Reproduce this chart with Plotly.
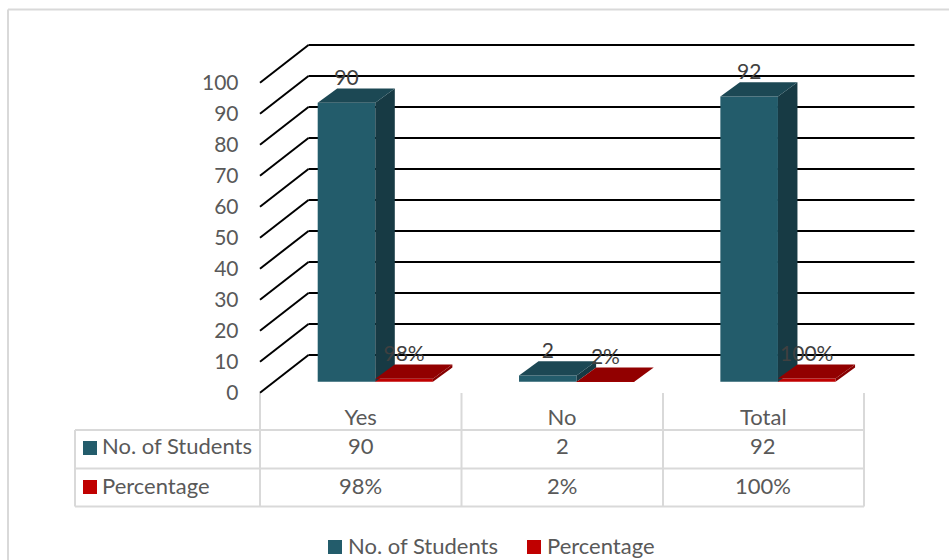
import plotly.graph_objects as go

# ---- data ----
categories = ["Yes", "No", "Total"]
students = [90, 2, 92]
percentage = [0.98, 0.02, 1.00]
student_labels = ["90", "2", "92"]
percentage_labels = ["98%", "2%", "100%"]
y_ticks = [0, 10, 20, 30, 40, 50, 60, 70, 80, 90, 100]
series_names = ["No. of Students", "Percentage"]

# ---- page geometry (pixels) ----
W, H = 949, 560
X0, CAT_W = 260.0, 201.33     # left of plot floor, width of one category
Y0, PX_PER_UNIT = 392.7, 3.1  # pixel row of value 0, pixels per value unit
FONT = "Lato"
TEXT = "#595959"
LINE = "#d9d9d9"
TEAL, TEAL_TOP, TEAL_SIDE = "#235c6b", "#1c4854", "#173a44"
RED, RED_TOP, RED_SIDE = "#c00000", "#920000", "#860000"

def px(c):  # category units from pixel x
    return (c - X0) / CAT_W
def py(r):  # value units from pixel row
    return (Y0 - r) / PX_PER_UNIT
def fx(c):
    return c / W
def fy(r):
    return 1 - r / H

WALL_DX, WALL_DY = 48.5 / CAT_W, 37.7 / PX_PER_UNIT
DEPTH_X, DEPTH_Y = 19.5 / CAT_W, 14.2 / PX_PER_UNIT
BASE = 11 / PX_PER_UNIT       # bars stand a little in front of the axis corner
BAR_W = 57.6 / CAT_W
GAP = 57.7 / CAT_W
RIGHT_END = px(914.5)
LABEL_DROP = 2 / PX_PER_UNIT

fig = go.Figure()

# front faces
for name, vals, colour, shift in [
    (series_names[0], students, TEAL, 0.0),
    (series_names[1], percentage, RED, BAR_W),
]:
    fig.add_bar(
        x=[i + 0.5 for i in range(len(categories))],
        y=vals,
        base=BASE,
        width=BAR_W,
        offset=GAP + shift - 0.5,
        marker=dict(color=colour, line=dict(width=0)),
        name=name,
        hoverinfo="skip",
        showlegend=False,
    )

# depth faces
def faces(vals, shift, top_col, side_col):
    for i, v in enumerate(vals):
        l = i + GAP + shift
        r = l + BAR_W
        b = BASE
        t = BASE + v
        fig.add_scatter(
            x=[r, r + DEPTH_X, r + DEPTH_X, r, r],
            y=[b, b + DEPTH_Y, t + DEPTH_Y, t, b],
            mode="lines", fill="toself", fillcolor=side_col,
            line=dict(width=0), showlegend=False, hoverinfo="skip",
        )
        fig.add_scatter(
            x=[l, l + DEPTH_X, r + DEPTH_X, r, l],
            y=[t, t + DEPTH_Y, t + DEPTH_Y, t, t],
            mode="lines", fill="toself", fillcolor=top_col,
            line=dict(width=0), showlegend=False, hoverinfo="skip",
        )

faces(students, 0.0, TEAL_TOP, TEAL_SIDE)
faces(percentage, BAR_W, RED_TOP, RED_SIDE)

# data labels, sitting above the back edge of each bar
for vals, labels, shift in [
    (students, student_labels, 0.0),
    (percentage, percentage_labels, BAR_W),
]:
    fig.add_scatter(
        x=[i + GAP + shift + BAR_W / 2 for i in range(len(vals))],
        y=[BASE + v + DEPTH_Y - LABEL_DROP for v in vals],
        mode="text", text=labels, textposition="top center",
        textfont=dict(family=FONT, size=21, color="#404040"),
        cliponaxis=False, showlegend=False, hoverinfo="skip",
    )

shapes = []
def seg(x0, y0, x1, y1, **kw):
    shapes.append(dict(type="line", x0=x0, y0=y0, x1=x1, y1=y1, layer="below", **kw))

# 3-D gridlines
for v in y_ticks:
    seg(0, v, WALL_DX, v + WALL_DY, xref="x", yref="y", line=dict(color="#000000", width=2))
    seg(WALL_DX, v + WALL_DY, RIGHT_END, v + WALL_DY, xref="x", yref="y",
        line=dict(color="#000000", width=2))

# chart-area border (left and top only are in frame)
paper = dict(xref="paper", yref="paper", line=dict(color=LINE, width=2))
seg(fx(8), fy(560), fx(8), fy(9.5), **paper)
seg(fx(8), fy(9.5), fx(949), fy(9.5), **paper)

# data table rules
for r in (430, 468.5, 506.5):
    seg(fx(75), fy(r), fx(864), fy(r), **paper)
seg(fx(75), fy(430), fx(75), fy(506.5), **paper)
for c in (260, 461.5, 663, 864):
    seg(fx(c), fy(393), fx(c), fy(506.5), **paper)

# swatches: table rows and the legend row
for c, r, col in ((90, 448, TEAL), (90, 487, RED), (335, 547, TEAL), (534, 547, RED)):
    shapes.append(dict(type="rect", xref="paper", yref="paper",
                       x0=fx(c - 7), x1=fx(c + 7), y0=fy(r - 7), y1=fy(r + 7),
                       fillcolor=col, line=dict(width=0)))

# table and legend text
ann = []
def cell(text, xref, x, r, anchor):
    ann.append(dict(text=text, xref=xref, x=x, yref="paper", y=fy(r),
                    xanchor=anchor, yanchor="middle", showarrow=False,
                    font=dict(family=FONT, size=22, color=TEXT)))

for row_r, name, labels in ((446, series_names[0], student_labels),
                            (485, series_names[1], percentage_labels)):
    cell(name, "paper", fx(100), row_r, "left")
    for i, t in enumerate(labels):
        cell(t, "x", i + 0.5, row_r, "center")
cell(series_names[0], "paper", fx(346), 545, "left")
cell(series_names[1], "paper", fx(545), 545, "left")

fig.update_layout(
    width=W, height=H, autosize=False,
    margin=dict(l=0, r=0, t=0, b=0, autoexpand=False),
    paper_bgcolor="white", plot_bgcolor="white",
    barmode="overlay", showlegend=False,
    shapes=shapes, annotations=ann,
    font=dict(family=FONT, size=22, color=TEXT),
    xaxis=dict(
        range=[px(0), px(W)], anchor="free", position=fy(402),
        tickmode="array", tickvals=[i + 0.5 for i in range(len(categories))],
        ticktext=categories, showgrid=False, zeroline=False, showline=False,
        ticks="", tickfont=dict(family=FONT, size=22, color=TEXT),
    ),
    yaxis=dict(
        range=[py(H), py(0)], anchor="free", position=fx(238.5),
        tickmode="array", tickvals=y_ticks, ticktext=[str(v) for v in y_ticks],
        showgrid=False, zeroline=False, showline=False,
        ticks="", tickfont=dict(family=FONT, size=21, color=TEXT),
    ),
)

fig.write_html(
    "out.html",
    config=dict(displayModeBar=False),
    post_script="document.body.style.margin='0';document.body.style.overflow='hidden';",
)
